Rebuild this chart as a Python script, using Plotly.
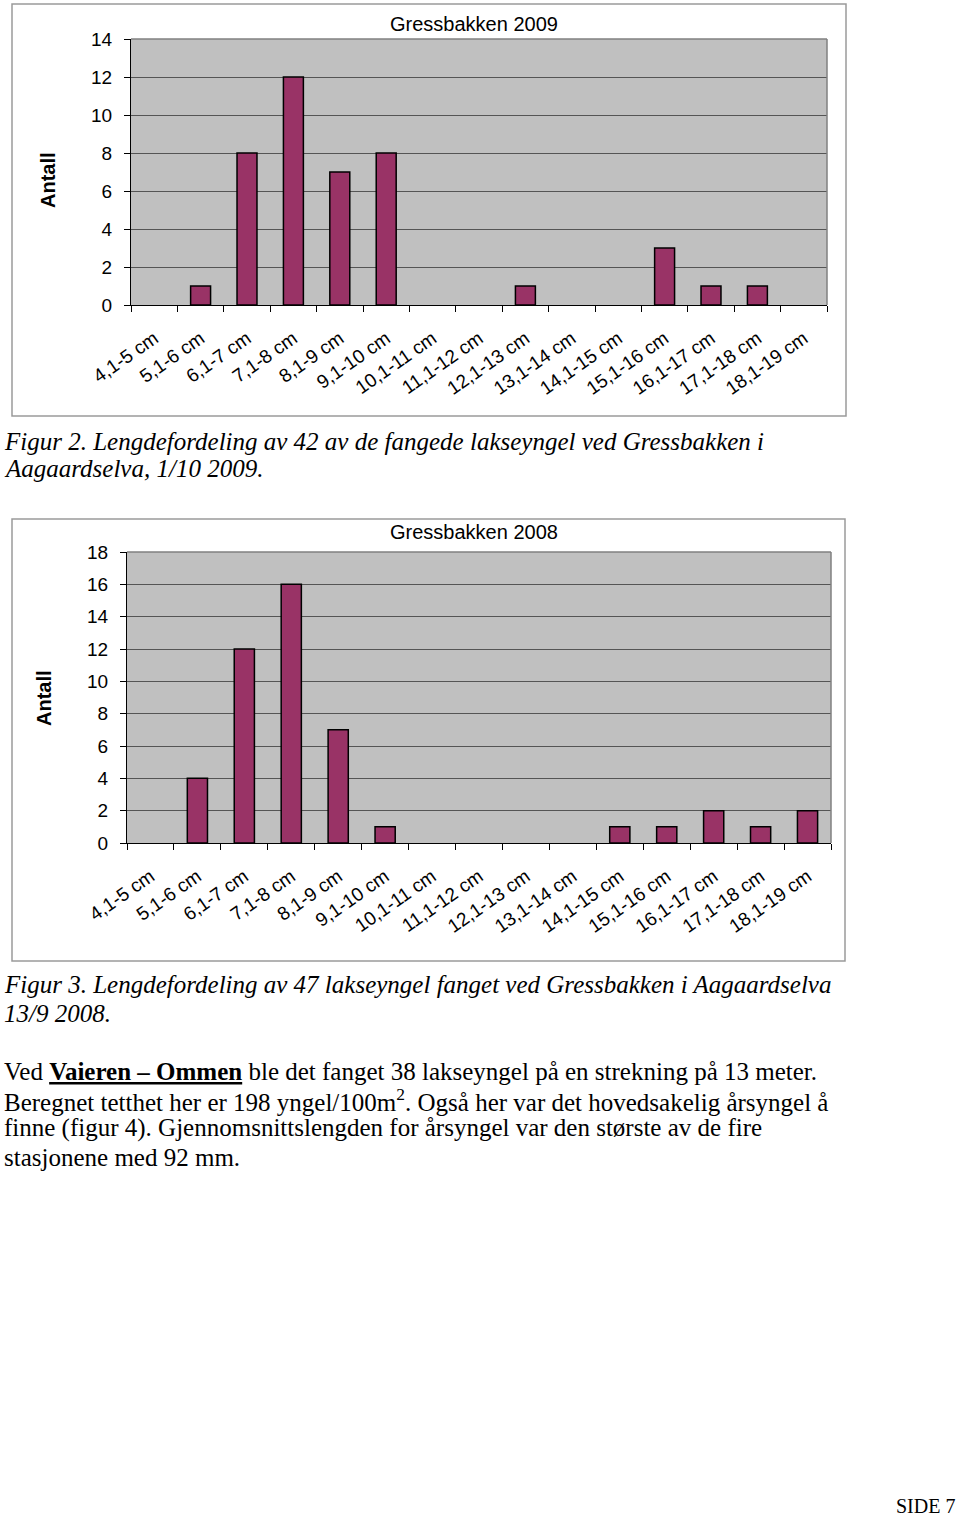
import plotly.graph_objects as go

W, H = 960, 1518

categories = ["4,1-5 cm", "5,1-6 cm", "6,1-7 cm", "7,1-8 cm", "8,1-9 cm", "9,1-10 cm",
              "10,1-11 cm", "11,1-12 cm", "12,1-13 cm", "13,1-14 cm", "14,1-15 cm",
              "15,1-16 cm", "16,1-17 cm", "17,1-18 cm", "18,1-19 cm"]
counts_2009 = [0, 1, 8, 12, 7, 8, 0, 0, 1, 0, 0, 3, 1, 1, 0]
counts_2008 = [0, 4, 12, 16, 7, 1, 0, 0, 0, 0, 1, 1, 2, 1, 2]
title_2009 = "Gressbakken 2009"
title_2008 = "Gressbakken 2008"
yticks_2009 = list(range(0, 15, 2))
yticks_2008 = list(range(0, 19, 2))

BAR = "#993366"
PLOTBG = "#c0c0c0"
GRID = "#555555"
SANS = "Liberation Sans, Arial, sans-serif"
SERIF = "Liberation Serif, Times New Roman, serif"


def px_x(p):
    return p / W


def px_y(p):
    return 1 - p / H


def nz(vals):
    # zero counts draw no bar (as in the reference)
    return [v if v else None for v in vals]


fig = go.Figure()
fig.add_trace(go.Bar(x=categories, y=nz(counts_2009), xaxis="x", yaxis="y",
                     marker=dict(color=BAR, line=dict(color="black", width=1.5)),
                     width=0.43, showlegend=False))
fig.add_trace(go.Bar(x=categories, y=nz(counts_2008), xaxis="x2", yaxis="y2",
                     marker=dict(color=BAR, line=dict(color="black", width=1.5)),
                     width=0.43, showlegend=False))


def xax(domain, anchor):
    return dict(domain=domain, anchor=anchor, type="category", automargin=False,
                categoryorder="array", categoryarray=categories,
                tickangle=-35, tickfont=dict(family=SANS, size=19, color="black"),
                ticklabelstandoff=14,
                showline=True, linecolor="black", linewidth=1,
                ticks="outside", tickson="boundaries", ticklen=6, tickcolor="black",
                showgrid=False, zeroline=False, fixedrange=True)


def yax(domain, anchor, top, vals):
    return dict(domain=domain, anchor=anchor, range=[0, top], tickvals=vals,
                automargin=False,
                tickfont=dict(family=SANS, size=19, color="black"),
                showline=True, linecolor="black", linewidth=1,
                ticks="outside", ticklen=6, tickcolor="black",
                ticklabelstandoff=8,
                showgrid=True, gridcolor=GRID, gridwidth=1, zeroline=False,
                fixedrange=True)


fig.update_layout(
    width=W, height=H, margin=dict(l=0, r=0, t=0, b=0, autoexpand=False),
    paper_bgcolor="white", plot_bgcolor=PLOTBG,
    xaxis=xax([px_x(131), px_x(827)], "y"),
    yaxis=yax([px_y(305), px_y(39)], "x", 14, yticks_2009),
    xaxis2=xax([px_x(127), px_x(831)], "y2"),
    yaxis2=yax([px_y(843), px_y(552)], "x2", 18, yticks_2008),
)

shapes = []
# outer chart boxes
for (x0, y0, x1, y1) in [(12, 4, 846, 416), (12, 519, 845, 961)]:
    shapes.append(dict(type="rect", xref="paper", yref="paper",
                       x0=px_x(x0), x1=px_x(x1), y0=px_y(y1), y1=px_y(y0),
                       line=dict(color="#9a9a9a", width=1.5), layer="below"))
# plot area top/right border
for xr, yr in [("x domain", "y domain"), ("x2 domain", "y2 domain")]:
    shapes.append(dict(type="line", xref=xr, yref=yr, x0=0, x1=1, y0=1, y1=1,
                       line=dict(color="#808080", width=1.5)))
    shapes.append(dict(type="line", xref=xr, yref=yr, x0=1, x1=1, y0=0, y1=1,
                       line=dict(color="#808080", width=1.5)))
fig.update_layout(shapes=shapes)

ann = []
# chart titles
ann.append(dict(text=title_2009, x=px_x(474), y=px_y(24), xref="paper", yref="paper",
                showarrow=False, xanchor="center", yanchor="middle",
                font=dict(family=SANS, size=20, color="black")))
ann.append(dict(text=title_2008, x=px_x(474), y=px_y(532), xref="paper", yref="paper",
                showarrow=False, xanchor="center", yanchor="middle",
                font=dict(family=SANS, size=20, color="black")))
# y titles
ann.append(dict(text="<b>Antall</b>", x=px_x(48), y=px_y(180), xref="paper", yref="paper",
                showarrow=False, textangle=-90, xanchor="center", yanchor="middle",
                font=dict(family=SANS, size=20, color="black")))
ann.append(dict(text="<b>Antall</b>", x=px_x(44), y=px_y(698), xref="paper", yref="paper",
                showarrow=False, textangle=-90, xanchor="center", yanchor="middle",
                font=dict(family=SANS, size=20, color="black")))

lines = [
    ("<i>Figur 2. Lengdefordeling av 42 av de fangede lakseyngel ved Gressbakken i</i>", 441),
    ("<i>Aagaardselva, 1/10 2009.</i>", 469),
    ("<i>Figur 3. Lengdefordeling av 47 lakseyngel fanget ved Gressbakken i Aagaardselva</i>", 985),
    ("<i>13/9 2008.</i>", 1013),
    ("Ved <b><u>Vaieren – Ommen</u></b> ble det fanget 38 lakseyngel på en strekning på 13 meter.", 1071),
    ("Beregnet tetthet her er 198 yngel/100m<sup>2</sup>. Også her var det hovedsakelig årsyngel å", 1100),
    ("finne (figur 4). Gjennomsnittslengden for årsyngel var den største av de fire", 1128),
    ("stasjonene med 92 mm.", 1157),
]
for txt, yp in lines:
    ann.append(dict(text=txt, x=px_x(2), y=px_y(yp), xref="paper", yref="paper",
                    showarrow=False, xanchor="left", yanchor="middle", align="left",
                    font=dict(family=SERIF, size=25, color="black")))
ann.append(dict(text="SIDE 7", x=px_x(956), y=px_y(1506), xref="paper", yref="paper",
                showarrow=False, xanchor="right", yanchor="middle", borderpad=0,
                font=dict(family=SERIF, size=20, color="black")))
fig.update_layout(annotations=ann)

fig.write_html("out.html")
